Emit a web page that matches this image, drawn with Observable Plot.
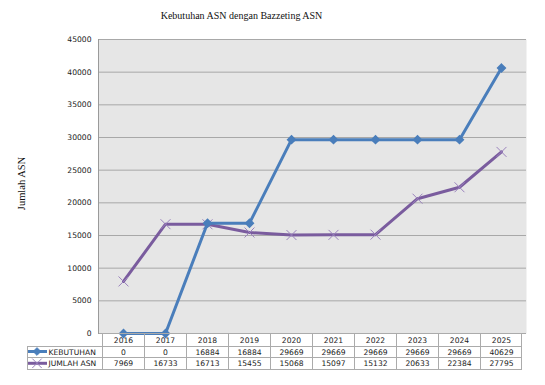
<!DOCTYPE html>
<html><head><meta charset="utf-8">
<script src="https://cdn.jsdelivr.net/npm/d3@7"></script>
<script src="https://cdn.jsdelivr.net/npm/@observablehq/plot@0.6"></script>
<style>body{margin:0;background:#fff}</style>
</head><body><div id="chart"></div>
<script>
const title = "Kebutuhan ASN dengan Bazzeting ASN";
const yLabel = "Jumlah ASN";
const years = ["2016","2017","2018","2019","2020","2021","2022","2023","2024","2025"];
const kebutuhan = [0,0,16884,16884,29669,29669,29669,29669,29669,40629];
const jumlahAsn = [7969,16733,16713,15455,15068,15097,15132,20633,22384,27795];
const seriesNames = ["KEBUTUHAN","JUMLAH ASN"];
const yTicks = [0,5000,10000,15000,20000,25000,30000,35000,40000,45000];

const colors = ["#4a7ebb", "#7a5c9e"];
const seriesValues = [kebutuhan, jumlahAsn];
const rows = seriesNames.flatMap((s, k) => years.map((yr, i) => ({year: yr, series: s, value: seriesValues[k][i]})));
const kebRows = rows.filter(d => d.series === seriesNames[0]);
const jmlRows = rows.filter(d => d.series === seriesNames[1]);

const W = 545, H = 385, ML = 98, MR = 19, MT = 39, MB = 52;
const rowOffsets = [0, 12.7, 24.3, 36.3];
const tableLeft = 27;

const tableGrid = (index, scales, values, dim) => {
  const g = d3.create("svg:g");
  const x = scales.x;
  const bw = x.bandwidth ? x.bandwidth() : (dim.width - dim.marginLeft - dim.marginRight) / years.length;
  const top = dim.height - dim.marginBottom;
  const ys = rowOffsets.map(o => Math.round(top + o) + 0.5);
  const x0 = x(years[0]), x1 = x(years[years.length - 1]) + bw;
  const lines = g.append("g").attr("stroke", "#ababab").attr("fill", "none");
  lines.append("line").attr("x1", x0).attr("x2", x1).attr("y1", ys[0]).attr("y2", ys[0]);
  for (let r = 1; r < 4; r++) lines.append("line").attr("x1", tableLeft).attr("x2", x1).attr("y1", ys[r]).attr("y2", ys[r]);
  years.forEach((yr) => {
    const xx = Math.round(x(yr)) + 0.5;
    lines.append("line").attr("x1", xx).attr("x2", xx).attr("y1", ys[0]).attr("y2", ys[3]);
  });
  const xe = Math.round(x1) - 0.5;
  lines.append("line").attr("x1", xe).attr("x2", xe).attr("y1", ys[0]).attr("y2", ys[3]);
  lines.append("line").attr("x1", tableLeft + 0.5).attr("x2", tableLeft + 0.5).attr("y1", ys[1]).attr("y2", ys[3]);
  // legend keys
  const symbols = [d3.symbolDiamond2, d3.symbolTimes];
  seriesNames.forEach((s, k) => {
    const cy = top + (rowOffsets[k + 1] + rowOffsets[k + 2]) / 2;
    g.append("line").attr("x1", tableLeft + 1).attr("x2", 47).attr("y1", cy).attr("y2", cy)
      .attr("stroke", colors[k]).attr("stroke-width", 3);
    g.append("path").attr("transform", `translate(37,${cy})`)
      .attr("d", d3.symbol(symbols[k], k === 0 ? 38 : 60)())
      .attr("fill", k === 0 ? colors[k] : "none").attr("stroke", k === 0 ? colors[k] : "#9a82bd").attr("stroke-width", 1);
  });
  return g.node();
};

const serif = "'Liberation Serif', 'Times New Roman', serif";
const txt = {fill: "#1a1a1a", fontSize: 7.6, lineAnchor: "middle"};

const plot = Plot.plot({
  width: W, height: H,
  marginLeft: ML, marginRight: MR, marginTop: MT, marginBottom: MB,
  style: {fontFamily: "'DejaVu Sans', sans-serif", fontSize: "7.6px", color: "#1a1a1a", background: "#fff"},
  x: {type: "band", domain: years, padding: 0, axis: null},
  y: {domain: [0, 45000], ticks: yTicks, tickFormat: "d", tickSize: 0, tickPadding: 7, label: null},
  marks: [
    Plot.frame({fill: "#e6e6e6", stroke: null}),
    Plot.gridY(yTicks, {stroke: "#a8a8a8", strokeOpacity: 1}),
    Plot.frame({anchor: "left", stroke: "#9a9a9a"}),
    Plot.axisY(yTicks, {tickFormat: "d", tickSize: 0, tickPadding: 7, label: null, fill: "#1a1a1a"}),
    Plot.line(jmlRows, {x: "year", y: "value", stroke: colors[1], strokeWidth: 3}),
    Plot.dot(jmlRows, {x: "year", y: "value", symbol: "times", r: 4.6, stroke: "#9a82bd", strokeWidth: 1}),
    Plot.line(kebRows, {x: "year", y: "value", stroke: colors[0], strokeWidth: 3}),
    Plot.dot(kebRows, {x: "year", y: "value", symbol: "diamond2", r: 3.5, fill: colors[0], stroke: colors[0]}),
    tableGrid,
    Plot.text(years, {...txt, x: d => d, text: d => d, frameAnchor: "bottom", dy: 6.6}),
    Plot.text(kebRows, {...txt, x: "year", text: d => String(d.value), frameAnchor: "bottom", dy: 18.6}),
    Plot.text(jmlRows, {...txt, x: "year", text: d => String(d.value), frameAnchor: "bottom", dy: 30.4}),
    Plot.text([seriesNames[0]], {...txt, text: d => d, frameAnchor: "bottom-left", dx: -50, dy: 18.6, textAnchor: "start"}),
    Plot.text([seriesNames[1]], {...txt, text: d => d, frameAnchor: "bottom-left", dx: -50, dy: 30.4, textAnchor: "start"}),
    Plot.text([yLabel], {text: d => d, frameAnchor: "left", dx: -77, dy: -3, rotate: -90, textAnchor: "middle", lineAnchor: "middle", fontFamily: serif, fontSize: 10.5, fill: "#111"}),
    Plot.text([title], {text: d => d, frameAnchor: "top-left", dx: 143, dy: -23.5, textAnchor: "middle", lineAnchor: "middle", fontFamily: serif, fontSize: 10, fill: "#111"})
  ]
});
document.getElementById("chart").append(plot);
</script>
</body></html>
